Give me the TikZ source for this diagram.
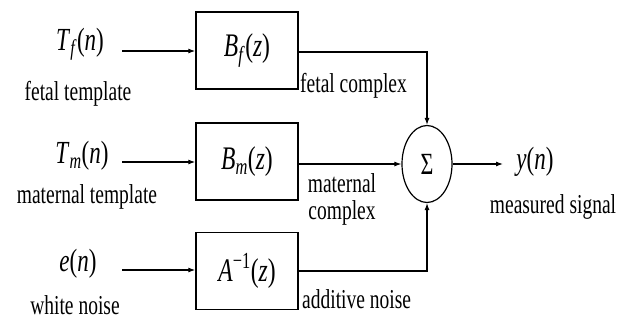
\documentclass[tikz,border=0pt]{standalone}
\usepackage{graphicx}
\usepackage{fontspec}
\setmainfont{Liberation Serif}
\usetikzlibrary{arrows.meta,shapes.geometric}
\newcommand{\vs}[1]{\scalebox{1}[1.4]{#1}}
\begin{document}
\begin{tikzpicture}[x=1pt,y=-1pt,
  lbl/.style={inner sep=0pt, font=\fontsize{19.5}{22}\selectfont},
  mlbl/.style={inner sep=0pt, font=\fontsize{23}{26}\selectfont},
  blk/.style={draw, line width=1.4pt, minimum width=102pt, minimum height=77pt, inner sep=0pt, font=\fontsize{23.5}{26}\selectfont},
  sumnode/.style={draw, ellipse, line width=1.2pt, minimum width=50pt, minimum height=77pt, inner sep=0pt, font=\fontsize{22}{24}\selectfont},
  sig/.style={line width=1.1pt, -{Latex[length=7pt,width=5pt]}}
]
\fill[white] (0,0) rectangle (620,322);
% blocks
\node[blk] (bf) at (247,50.5) {\vs{\textit{B}\textsubscript{\textit{f}}(\textit{z})}};
\node[blk] (bm) at (247,161.5) {\vs{\textit{B}\textsubscript{\textit{m}}(\textit{z})}};
\node[blk] (ba) at (247,271) {\vs{\textit{A}\textsuperscript{\char"2212 1}(\textit{z})}};
\node[sumnode] (s) at (427,164) {\vs{Σ}};
% input labels
\node[mlbl] (tf) at (80,44) {\vs{\textit{T}\textsubscript{\textit{f}}(\textit{n})}};
\node[lbl] (tfl) at (78,94) {\vs{fetal template}};
\node[mlbl] (tm) at (82,156) {\vs{\textit{T}\textsubscript{\textit{m}}(\textit{n})}};
\node[lbl] (tml) at (87,197) {\vs{maternal template}};
\node[mlbl] (en) at (78,264) {\vs{\textit{e}(\textit{n})}};
\node[lbl] (enl) at (75,305) {\vs{white noise}};
% output labels
\node[lbl,anchor=west] (fc) at (300,86) {\vs{fetal complex}};
\node[lbl] (mc1) at (342,183) {\vs{maternal}};
\node[lbl] (mc2) at (342,213) {\vs{complex}};
\node[lbl,anchor=west] (an) at (302,299) {\vs{additive noise}};
\node[mlbl] (yn) at (535,162) {\vs{\textit{y}(\textit{n})}};
\node[lbl] (ms) at (553,207) {\vs{measured signal}};
% coordinates
\coordinate (inf) at (122,51);
\coordinate (inm) at (122,162);
\coordinate (ina) at (122,270);
\coordinate (out) at (503,164);
% connectors
\draw[sig] (inf) -- (inf -| bf.west);
\draw[sig] (inm) -- (inm -| bm.west);
\draw[sig] (ina) -- (ina -| ba.west);
\draw[sig] ([yshift=-1.5pt]bf.east) -| (s.north);
\draw[sig] (s.west -| bm.east) -- (s.west);
\draw[sig] (ba.east) -| (s.south);
\draw[sig] (s.east) -- (out);
\end{tikzpicture}
\end{document}
